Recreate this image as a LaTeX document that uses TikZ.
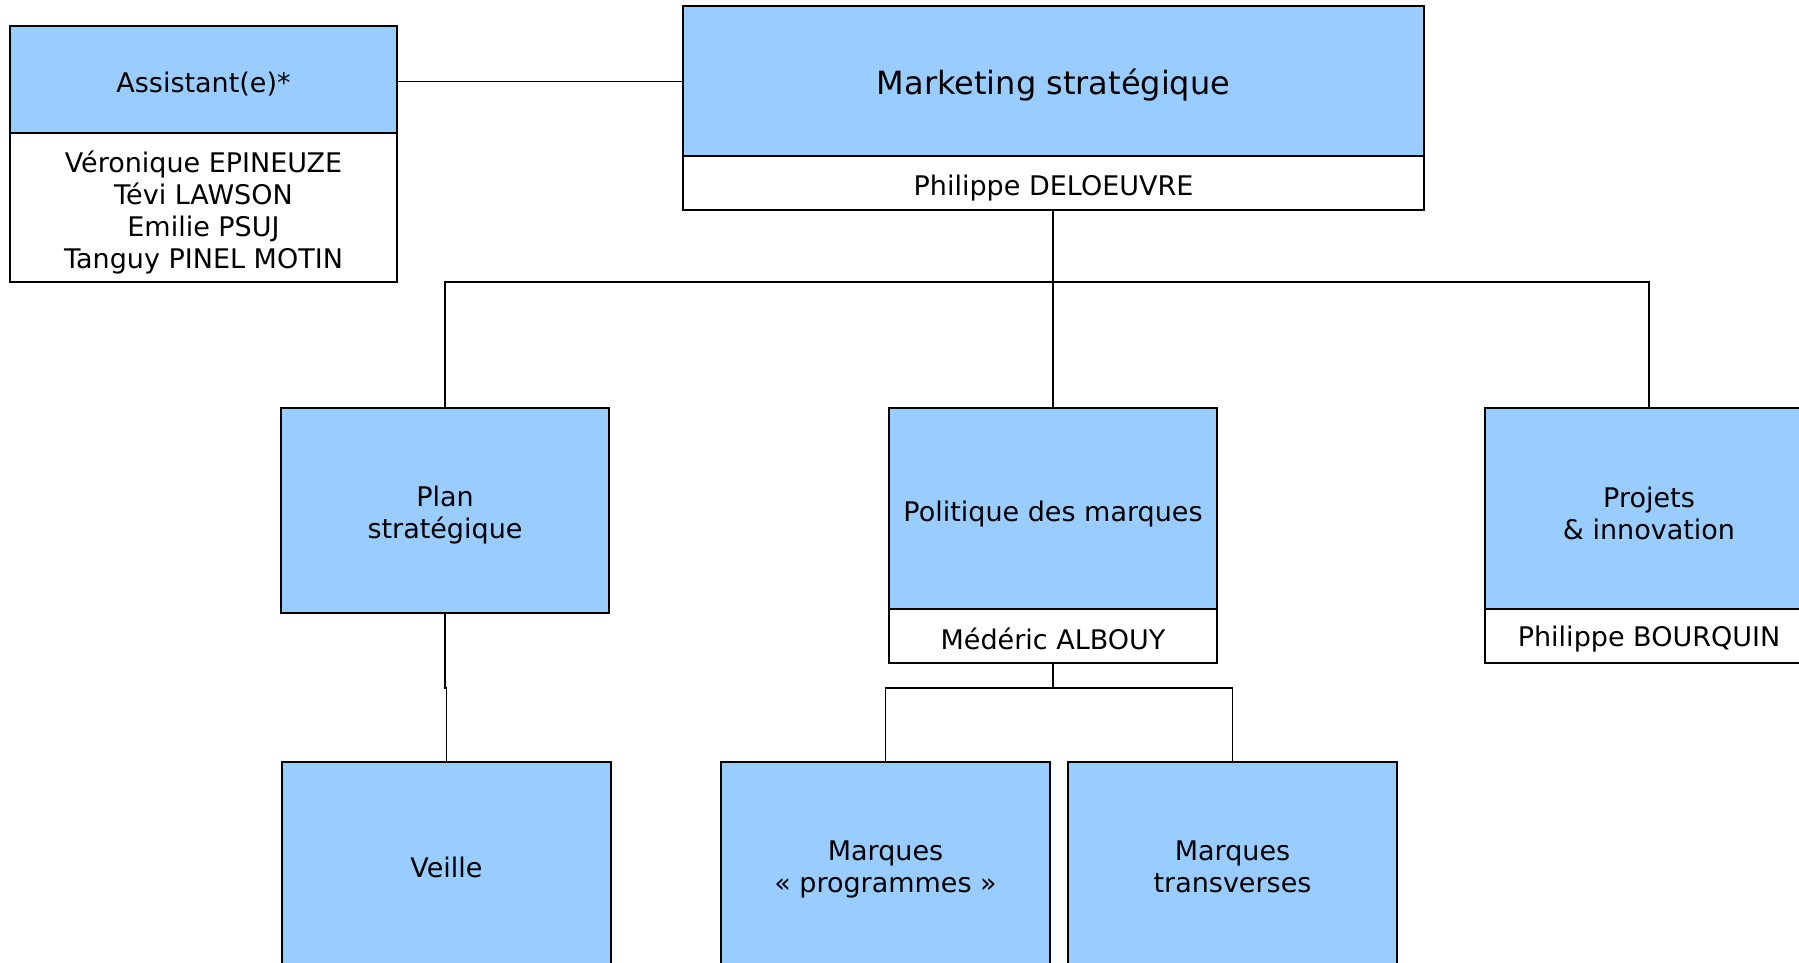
\documentclass[tikz,border=0pt]{standalone}
\usepackage{fontspec}
\setmainfont{DejaVu Sans}
\definecolor{boxblue}{HTML}{99CCFF}
\begin{document}
\begin{tikzpicture}[x=0.5pt,y=-0.5pt,
  bluebox/.style={draw=black,line width=1pt,fill=boxblue,inner sep=0pt},
  namebox/.style={draw=black,line width=1pt,fill=white,inner sep=0pt},
  txt/.style={inner sep=0pt,align=center,font=\fontsize{13.5}{16}\selectfont},
  link/.style={draw=black,line width=0.8pt}]
\useasboundingbox (0,0) rectangle (1799,963);
\clip (0,0) rectangle (1799,963);
% boxes
\node[bluebox,minimum width=193.5pt,minimum height=53.5pt] (asst) at (203.5,79.5) {};
\node[namebox,minimum width=193.5pt,minimum height=74.5pt] (asstn) at (203.5,207.5) {};
\node[bluebox,minimum width=370.5pt,minimum height=75pt] (mkt) at (1053.5,81) {};
\node[namebox,minimum width=370.5pt,minimum height=27pt] (mktn) at (1053.5,183) {};
\node[bluebox,minimum width=164pt,minimum height=102.5pt] (plan) at (445,510.5) {};
\node[bluebox,minimum width=164pt,minimum height=100.5pt] (pol) at (1053,508.5) {};
\node[namebox,minimum width=164pt,minimum height=27pt] (poln) at (1053,636) {};
\node[bluebox,minimum width=164pt,minimum height=100.5pt] (proj) at (1649,508.5) {};
\node[namebox,minimum width=164pt,minimum height=27pt] (projn) at (1649,636) {};
\node[bluebox,minimum width=164.5pt,minimum height=120pt] (veille) at (446.5,882) {};
\node[bluebox,minimum width=164.5pt,minimum height=120pt] (mprog) at (885.5,882) {};
\node[bluebox,minimum width=164.5pt,minimum height=120pt] (mtrans) at (1232.5,882) {};
% texts
\node[txt] (asst-t) at ([yshift=-2.5pt]asst.center) {Assistant(e)*};
\node[txt] (asstn-t) at ([yshift=-2.5pt]asstn.center) {Véronique EPINEUZE\\Tévi LAWSON\\Emilie PSUJ\\Tanguy PINEL MOTIN};
\node[txt,font=\fontsize{16}{19}\selectfont] (mkt-t) at ([yshift=-2pt]mkt.center) {Marketing stratégique};
\node[txt] (mktn-t) at ([yshift=-2.5pt]mktn.center) {Philippe DELOEUVRE};
\node[txt] (plan-t) at ([yshift=-2.3pt]plan.center) {Plan\\stratégique};
\node[txt] (pol-t) at ([yshift=-3pt]pol.center) {Politique des marques};
\node[txt] (poln-t) at ([yshift=-1.5pt]poln.center) {Médéric ALBOUY};
\node[txt] (proj-t) at ([yshift=-2.3pt]proj.center) {Projets\\\& innovation};
\node[txt] (projn-t) at ([yshift=-1.5pt]projn.center) {Philippe BOURQUIN};
\node[txt] (veille-t) at ([yshift=-53pt]veille.north) {Veille};
\node[txt] (mprog-t) at ([yshift=-54pt]mprog.north) {Marques\\« programmes »};
\node[txt] (mtrans-t) at ([yshift=-52.8pt]mtrans.north) {Marques\\transverses};
% connectors
\coordinate (hub) at (1053,282);
\coordinate (hub2) at (1053,688);
\coordinate (jog) at (445,688);
\draw[link] (mktn.south -| pol.north) -- (pol.north);
\draw[link] (asst.east |- 0,81.5) -- (mkt.west |- 0,81.5);
\draw[link] (plan.north) |- (hub) -| (proj.north);
\draw[link] (poln.south) -- (hub2);
\draw[link] (mprog.north) |- (hub2) -| (mtrans.north);
\draw[link] (plan.south) -- (jog) -| (veille.north);
\end{tikzpicture}
\end{document}
